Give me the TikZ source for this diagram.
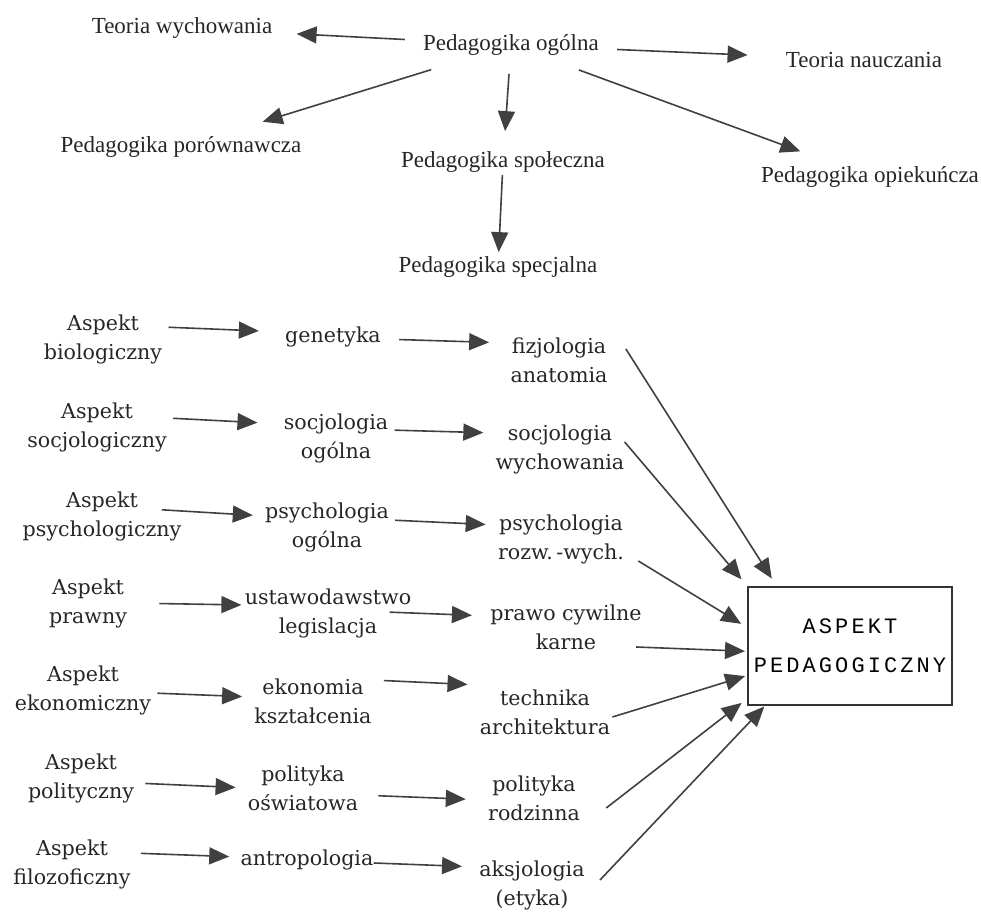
\documentclass[tikz,border=0pt]{standalone}
\usepackage{fontspec}
\setmainfont{Liberation Serif}
\newfontfamily\slabfont{DejaVu Serif}
\newfontfamily\boxfont[LetterSpace=14]{Liberation Mono}
\usepackage{tikz}
\usetikzlibrary{arrows.meta}

\begin{document}
\begin{tikzpicture}[
  x=0.5pt,y=-0.5pt,
  >={Triangle[length=10pt,width=8.5pt]},
  pil/.style={->,draw=black!75,line width=0.8pt,shorten >=6pt,shorten <=3pt},
  gora/.style={font=\fontsize{11.5}{13}\selectfont,text=black!85,inner sep=6pt},
  dol/.style={font=\slabfont\fontsize{10.3}{14.5}\selectfont,text=black!85,align=center,inner sep=0pt},
  ramka/.style={draw=black!80,line width=0.7pt,minimum width=102pt,minimum height=59pt,outer sep=0pt,inner sep=0pt,align=center,font=\boxfont\fontsize{11}{19.5}\selectfont}
]
\useasboundingbox (0,0) rectangle (981,913);

\node[gora] (ogolna) at (511,45) {Pedagogika ogólna};
\node[gora] (wych) at (182,28) {Teoria wychowania};
\node[gora] (naucz) at (864,60) {Teoria nauczania};
\node[gora] (porown) at (181,147) {Pedagogika porównawcza};
\node[gora] (spol) at (503,162) {Pedagogika społeczna};
\node[gora] (opiek) at (870,177) {Pedagogika opiekuńcza};
\node[gora] (spec) at (498,267) {Pedagogika specjalna};

\draw[pil] (ogolna) -- (wych);
\draw[pil,shorten >=13pt] (ogolna) -- (naucz);
\draw[pil,shorten >=4pt] (ogolna) -- (porown);
\draw[pil,shorten >=4pt] (ogolna) -- (spol);
\draw[pil,shorten >=4pt] (ogolna) -- (opiek);
\draw[pil,shorten <=-5pt,shorten >=-4pt] (spol) -- (spec);

\node[dol] (a1) at (103,339) {Aspekt\\biologiczny};
\node[dol] (g1) at (333,337) {genetyka};
\node[dol] (f1) at (559,360) {fizjologia\\anatomia};
\node[dol] (a2) at (97,427) {Aspekt\\socjologiczny};
\node[dol] (s2) at (336,438) {socjologia\\ogólna};
\node[dol] (w2) at (560,449) {socjologia\\wychowania};
\node[dol] (a3) at (102,516) {Aspekt\\psychologiczny};
\node[dol] (p3) at (327,527) {psychologia\\ogólna};
\node[dol] (r3) at (561,539) {psychologia\\rozw.\,-wych.};
\node[dol] (a4) at (88,603) {Aspekt\\prawny};
\node[dol] (u4) at (328,613) {ustawodawstwo\\legislacja};
\node[dol] (k4) at (566,627) {prawo cywilne\\karne};
\node[dol] (a5) at (83,690) {Aspekt\\ekonomiczny};
\node[dol] (e5) at (313,701) {ekonomia\\kształcenia};
\node[dol] (t5) at (545,712) {technika\\architektura};
\node[dol] (a6) at (81,778) {Aspekt\\polityczny};
\node[dol] (o6) at (303,788) {polityka\\oświatowa};
\node[dol] (r6) at (534,798) {polityka\\rodzinna};
\node[dol] (a7) at (72,864) {Aspekt\\filozoficzny};
\node[dol] (n7) at (307,860) {antropologia};
\node[dol] (k7) at (532,885) {aksjologia\\(etyka)};

\draw[pil,shorten >=13pt] ([yshift=6pt]a1.east) -- ([yshift=2.5pt]g1.west);
\draw[pil,shorten <=9pt,shorten >=10.5pt] ([yshift=-1pt]g1.east) -- ([yshift=8.5pt]f1.west);
\draw[pil,shorten >=13pt] ([yshift=4.5pt]a2.east) -- ([yshift=7pt]s2.west);
\draw[pil] ([yshift=4pt]s2.east) -- ([yshift=8pt]w2.west);
\draw[pil,shorten <=-10pt] ([yshift=2.5pt]a3.east) -- ([yshift=5.5pt]p3.west);
\draw[pil] ([yshift=3.5pt]p3.east) -- ([yshift=7pt]r3.west);
\draw[pil,shorten <=16pt,shorten >=1.5pt] (a4.east) -- ([yshift=4pt]u4.west);
\draw[pil,shorten <=-11pt,shorten >=9pt] (u4.east) -- ([yshift=5.5pt]k4.west);
\draw[pil] ([yshift=-1.5pt]a5.east) -- ([yshift=2pt]e5.west);
\draw[pil,shorten <=6pt] ([yshift=10.5pt]e5.east) -- ([yshift=13.5pt]t5.west);
\draw[pil,shorten <=5.5pt] ([yshift=-2.5pt]a6.east) -- (o6.west);
\draw[pil,shorten <=10pt,shorten >=11pt] ([yshift=-3.5pt]o6.east) -- ([yshift=-1pt]r6.west);
\draw[pil,shorten <=5pt,shorten >=5.5pt] ([yshift=5.5pt]a7.east) -- ([yshift=1.5pt]n7.west);
\draw[pil,shorten <=0pt,shorten >=8.5pt] ([yshift=-1.5pt]n7.east) -- ([yshift=9pt]k7.west);

\node[ramka] (ped) at (850,646) {ASPEKT\\PEDAGOGICZNY};

\draw[pil,shorten <=0pt,shorten >=5pt] ([xshift=9pt,yshift=5.5pt]f1.east) -- (ped.141);
\draw[pil,shorten <=0pt,shorten >=5pt] ([yshift=3.5pt]w2.east) -- (ped.north west);
\draw[pil,shorten <=0pt,shorten >=4pt] ([xshift=7pt,yshift=-11pt]r3.east) -- (ped.170);
\draw[pil,shorten <=0pt,shorten >=1.5pt] ([xshift=-3pt,yshift=-10pt]k4.east) -- (ped.183);
\draw[pil,shorten <=0pt,shorten >=1.5pt] ([xshift=1pt,yshift=-2.5pt]t5.east) -- (ped.196);
\draw[pil,shorten <=0pt,shorten >=4pt] ([xshift=13pt,yshift=-5pt]r6.east) -- (ped.207);
\draw[pil,shorten <=0pt,shorten >=1pt] ([xshift=7.5pt,yshift=2.5pt]k7.east) -- (ped.215);

\end{tikzpicture}
\end{document}
